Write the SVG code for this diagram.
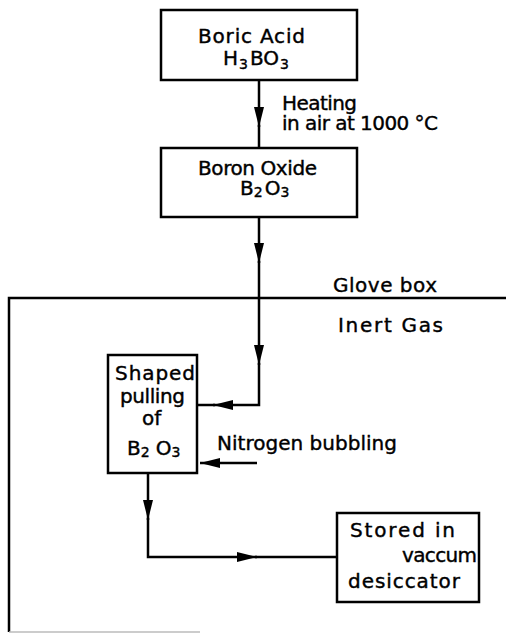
<svg xmlns="http://www.w3.org/2000/svg" width="506" height="634" viewBox="0 0 506 634">
<style>
.box{fill:#fff;stroke:#000;stroke-width:2.5}
.ln{fill:none;stroke:#000;stroke-width:2.5}
.t{font-family:"DejaVu Sans",sans-serif;font-size:20px;fill:#000;stroke:#000;stroke-width:0.4}
.s{font-size:14px}
</style>
<defs>
<marker id="ah" markerUnits="userSpaceOnUse" markerWidth="22" markerHeight="11" refX="20" refY="5" orient="auto">
<path d="M0,0 L20,5 L0,10 z" fill="#000"/>
</marker>
</defs>
<rect width="506" height="634" fill="#fff"/>
<g id="glovebox">
<path class="ln" d="M506 298 H9 V632"/>
<path d="M9 632 H200" fill="none" stroke="#bbb" stroke-width="1.5"/>
<text class="t" x="333" y="292" textLength="104" lengthAdjust="spacing">Glove box</text>
<text class="t" x="338" y="332" textLength="105" lengthAdjust="spacing">Inert Gas</text>
</g>
<g id="connectors">
<path class="ln" d="M259 80 V127" marker-end="url(#ah)"/>
<path class="ln" d="M259 125 V148"/>
<path class="ln" d="M259 217 V263" marker-end="url(#ah)"/>
<path class="ln" d="M259 261 V365" marker-end="url(#ah)"/>
<path class="ln" d="M259 363 V405 H213" marker-end="url(#ah)"/>
<path class="ln" d="M215 405 H197"/>
<path class="ln" d="M257 463 H200" marker-end="url(#ah)"/>
<path class="ln" d="M148 473 V520" marker-end="url(#ah)"/>
<path class="ln" d="M148 518 V557 H257" marker-end="url(#ah)"/>
<path class="ln" d="M255 557 H337"/>
<text class="t" x="282" y="110" textLength="75" lengthAdjust="spacing">Heating</text>
<text class="t" x="282" y="130" textLength="156" lengthAdjust="spacing">in air at  1000 °C</text>
<text class="t" x="217" y="450" textLength="180" lengthAdjust="spacing">Nitrogen bubbling</text>
</g>
<g id="boric-acid">
<rect class="box" x="161" y="10" width="196" height="70"/>
<text class="t" x="198" y="43" textLength="107" lengthAdjust="spacing">Boric Acid</text>
<text class="t" x="223" y="65">H<tspan class="s" dy="4" dx="1">3</tspan><tspan dy="-4" dx="2">BO</tspan><tspan class="s" dy="4" dx="1">3</tspan></text>
</g>
<g id="boron-oxide">
<rect class="box" x="161" y="148" width="196" height="69"/>
<text class="t" x="198" y="175" textLength="119" lengthAdjust="spacing">Boron Oxide</text>
<text class="t" x="240" y="195">B<tspan class="s" dy="2">2</tspan><tspan dy="-2" dx="2">O</tspan><tspan class="s" dy="2">3</tspan></text>
</g>
<g id="shaped-pulling">
<rect class="box" x="108" y="355" width="89" height="118"/>
<text class="t" x="115" y="380" textLength="80" lengthAdjust="spacing">Shaped</text>
<text class="t" x="120" y="403" textLength="65" lengthAdjust="spacing">pulling</text>
<text class="t" x="142" y="425">of</text>
<text class="t" x="127" y="455">B<tspan class="s" dy="2">2</tspan><tspan dy="-2" dx="6">O</tspan><tspan class="s" dy="2">3</tspan></text>
</g>
<g id="stored">
<rect class="box" x="337" y="513" width="142" height="89"/>
<text class="t" x="350" y="537" textLength="105" lengthAdjust="spacing">Stored  in</text>
<text class="t" x="402" y="562" textLength="75" lengthAdjust="spacing">vaccum</text>
<text class="t" x="348" y="588" textLength="112" lengthAdjust="spacing">desiccator</text>
</g>
</svg>
